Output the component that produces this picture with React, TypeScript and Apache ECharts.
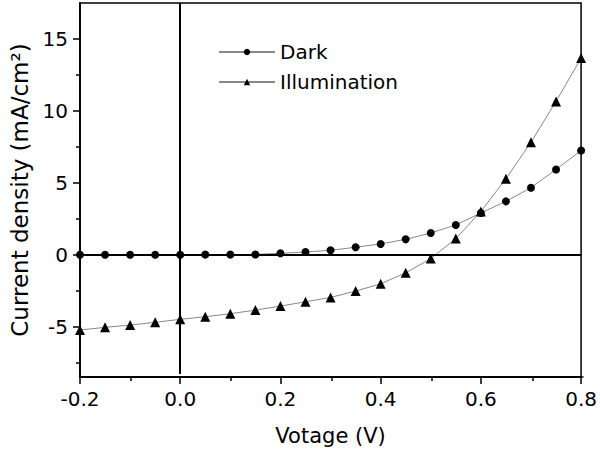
import React, { useEffect, useRef } from "react";
import * as echarts from "echarts";

const voltage = [-0.2, -0.15, -0.1, -0.05, 0, 0.05, 0.1, 0.15, 0.2, 0.25, 0.3, 0.35, 0.4, 0.45, 0.5, 0.55, 0.6, 0.65, 0.7, 0.75, 0.8];
const dark = [0, 0, 0, 0, 0, 0.01, 0.01, 0.02, 0.1, 0.19, 0.31, 0.52, 0.75, 1.07, 1.51, 2.07, 2.9, 3.71, 4.66, 5.93, 7.24];
const illumination = [-5.23, -5.05, -4.89, -4.7, -4.49, -4.31, -4.1, -3.85, -3.57, -3.27, -2.97, -2.53, -2.02, -1.26, -0.27, 1.12, 3.01, 5.28, 7.82, 10.66, 13.67];
const yMajorTicks = [-5, 0, 5, 10, 15];
const yMinorTicks = [-7.5, -2.5, 2.5, 7.5, 12.5];
const xMinorTicks = [-0.1, 0.1, 0.3, 0.5, 0.7];
const seriesNames = ["Dark", "Illumination"];

const FONT = "DejaVu Sans, sans-serif";

export default function App() {
  const ref = useRef<HTMLDivElement>(null);
  useEffect(() => {
    if (!ref.current) return;
    const chart = echarts.init(ref.current, null, { renderer: "svg" });
    const gridRect = { left: 80, right: 17, top: 3, bottom: 78 };
    chart.setOption({
      animation: false,
      backgroundColor: "#fff",
      grid: [
        { ...gridRect, show: true, borderColor: "#000", borderWidth: 1.5, backgroundColor: "transparent" },
        { ...gridRect },
      ],
      legend: {
        orient: "vertical",
        left: 213,
        top: 37,
        itemWidth: 56,
        itemHeight: 8,
        itemGap: 10,
        data: seriesNames,
        textStyle: { fontSize: 20, color: "#000", fontFamily: FONT },
      },
      xAxis: [
        {
          type: "value",
          gridIndex: 0,
          position: "bottom",
          min: -0.2,
          max: 0.8,
          interval: 0.2,
          name: "Votage (V)",
          nameLocation: "middle",
          nameGap: 48,
          nameTextStyle: { fontSize: 21, color: "#000", fontFamily: FONT },
          axisLine: { show: true, onZero: false, lineStyle: { color: "#000", width: 1.5 } },
          axisTick: { show: true, inside: false, length: 7, lineStyle: { color: "#000", width: 1.5 } },
          axisLabel: { color: "#000", fontSize: 20, fontFamily: FONT, margin: 12, formatter: (v: number) => v.toFixed(1) },
          splitLine: { show: false },
        },
        {
          type: "value",
          gridIndex: 1,
          position: "bottom",
          min: -0.2,
          max: 0.8,
          axisLine: { show: true, onZero: false, lineStyle: { color: "#000", width: 1.5 } },
          axisTick: { show: true, inside: false, length: 4, customValues: xMinorTicks, lineStyle: { color: "#000", width: 1.5 } },
          axisLabel: { show: false },
          splitLine: { show: false },
        },
      ],
      yAxis: [
        {
          type: "value",
          gridIndex: 0,
          position: "left",
          min: -8.5,
          max: 17.5,
          name: "Current density (mA/cm²)",
          nameLocation: "middle",
          nameGap: 40,
          nameTextStyle: { fontSize: 23, color: "#000", fontFamily: FONT },
          axisLine: { show: true, onZero: false, lineStyle: { color: "#000", width: 1.5 } },
          axisTick: { show: true, inside: false, length: 7, customValues: yMajorTicks, lineStyle: { color: "#000", width: 1.5 } },
          axisLabel: { color: "#000", fontSize: 20, fontFamily: FONT, margin: 12, customValues: yMajorTicks },
          splitLine: { show: false },
        },
        {
          type: "value",
          gridIndex: 1,
          position: "left",
          min: -8.5,
          max: 17.5,
          axisLine: { show: true, onZero: false, lineStyle: { color: "#000", width: 1.5 } },
          axisTick: { show: true, inside: false, length: 4, customValues: yMinorTicks, lineStyle: { color: "#000", width: 1.5 } },
          axisLabel: { show: false },
          splitLine: { show: false },
        },
      ],
      series: [
        {
          name: "Dark",
          type: "line",
          xAxisIndex: 0,
          yAxisIndex: 0,
          data: voltage.map((v, i) => [v, dark[i]]),
          symbol: "circle",
          symbolSize: 8,
          itemStyle: { color: "#000" },
          lineStyle: { color: "#888", width: 1 },
          markLine: {
            silent: true,
            symbol: ["none", "none"],
            label: { show: false },
            lineStyle: { color: "#000", width: 2, type: "solid" },
            data: [
              [{ coord: [0, 17.5] }, { coord: [0, -8.3] }],
              { yAxis: 0 },
            ],
          },
          z: 3,
        },
        {
          name: "Illumination",
          type: "line",
          xAxisIndex: 0,
          yAxisIndex: 0,
          data: voltage.map((v, i) => [v, illumination[i]]),
          symbol: "triangle",
          symbolSize: 10,
          itemStyle: { color: "#000" },
          lineStyle: { color: "#888", width: 1 },
          z: 3,
        },
      ],
    });
    return () => chart.dispose();
  }, []);
  return <div ref={ref} style={{ width: 600, height: 455, position: "absolute", left: 0, top: 0 }} />;
}
